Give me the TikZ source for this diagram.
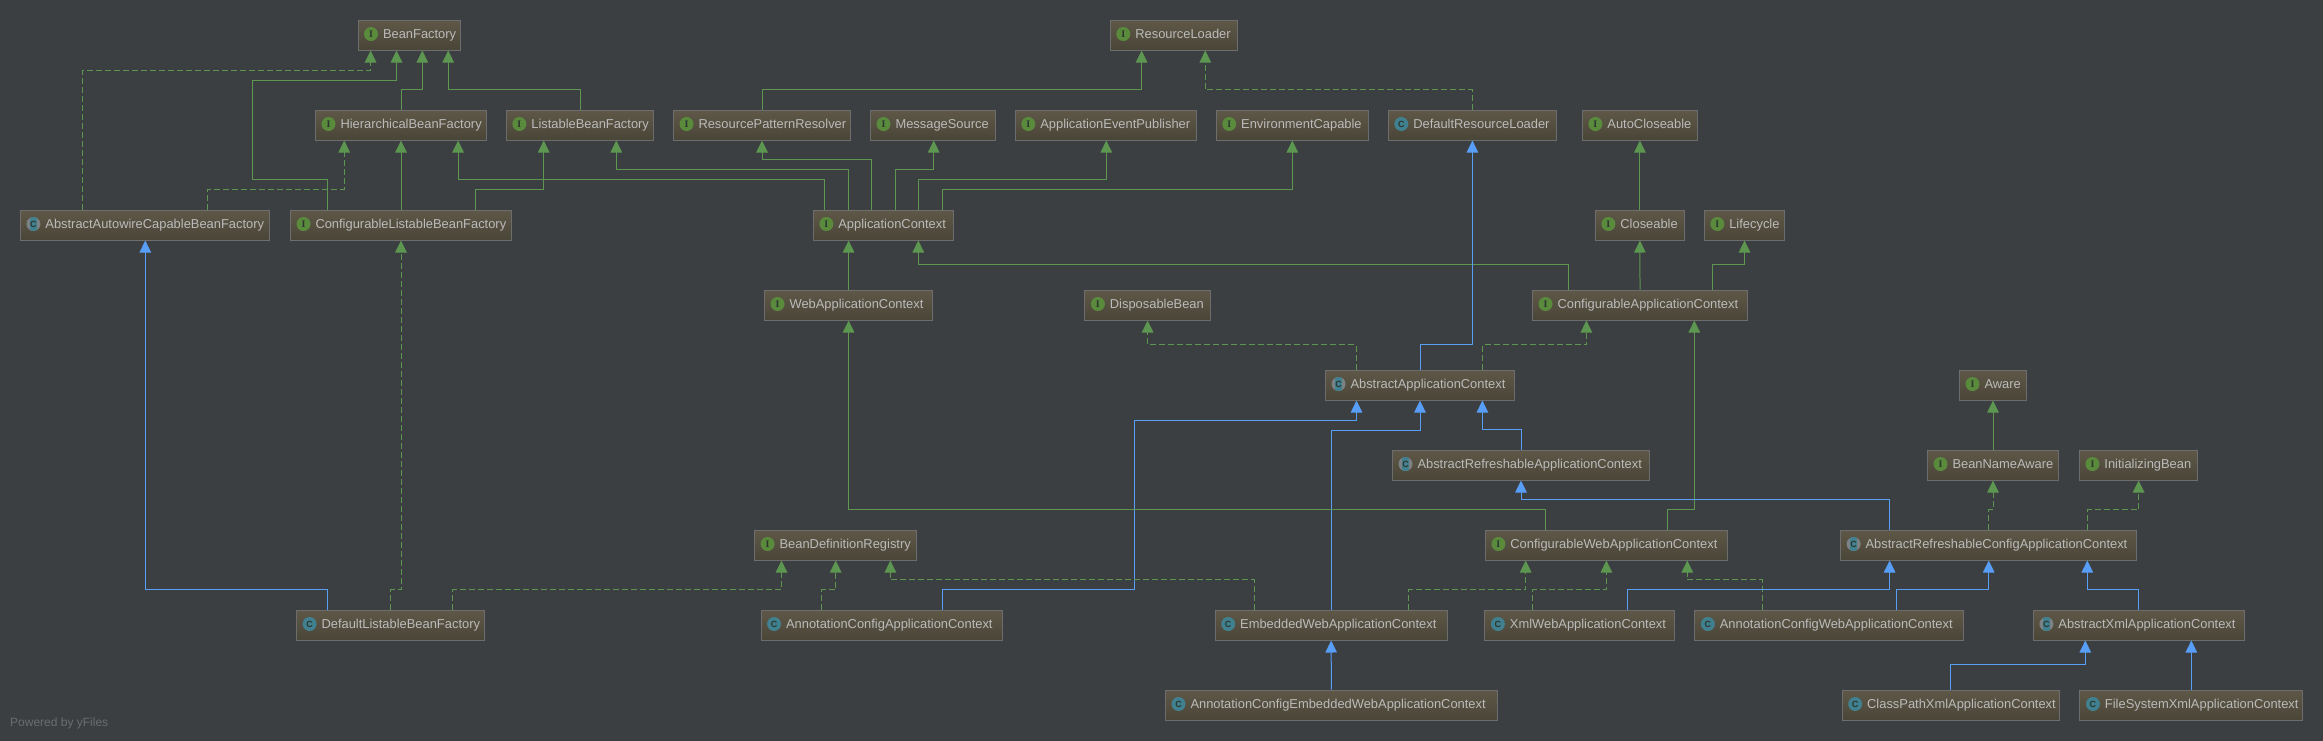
\documentclass[tikz,border=0pt]{standalone}
\usepackage{fontspec}
\setmainfont{Liberation Sans}
\newfontfamily\iconserif{Liberation Serif}
\usetikzlibrary{arrows.meta}

\definecolor{bgcolor}{HTML}{3C3F41}
\definecolor{boxtop}{HTML}{5F5848}
\definecolor{boxbottom}{HTML}{494537}
\definecolor{boxline}{HTML}{6D6D6D}
\definecolor{boxtext}{HTML}{BBBBBB}
\definecolor{greenline}{HTML}{5C9650}
\definecolor{blueline}{HTML}{589DF6}
\definecolor{ifacefill}{HTML}{5A8A3C}
\definecolor{classfill}{HTML}{40808F}
\definecolor{absring}{HTML}{7C8284}
\definecolor{iconletter}{HTML}{2C3630}

\tikzset{
  classtext/.style={font=\fontsize{12.9}{15}\selectfont, text=boxtext},
  basebox/.style={classtext, draw=boxline, line width=1pt, top color=boxtop, bottom color=boxbottom,
    inner xsep=6pt, inner ysep=0pt, minimum height=30pt, text height=10pt, text depth=3pt,
    execute at begin node={\hyphenpenalty=10000\hspace*{19pt}}},
  iconbase/.style={circle, inner sep=0pt, minimum size=14pt, text=iconletter, anchor=center,
    font=\fontsize{9}{9}\selectfont\bfseries, xshift=13.5pt, yshift=1pt},
  ifaceicon/.style={iconbase, fill=ifacefill, font=\iconserif\fontsize{10}{10}\selectfont\bfseries},
  classicon/.style={iconbase, fill=classfill},
  absicon/.style={iconbase, fill=absring, path picture={
    \fill[classfill] ([shift={(-3.5pt,-7pt)}]path picture bounding box.center) rectangle ([shift={(3.5pt,7pt)}]path picture bounding box.center);}},
  ifacebox/.style={basebox, label={[ifaceicon]west:I}},
  classbox/.style={basebox, label={[classicon]west:C}},
  absbox/.style={basebox, label={[absicon]west:C}},
  edgetip/.style={-{Triangle[length=12pt,width=11.5pt]}, line width=1pt},
  ifaceedge/.style={edgetip, draw=greenline, color=greenline},
  impledge/.style={ifaceedge, dash pattern=on 6pt off 3pt},
  classedge/.style={edgetip, draw=blueline, color=blueline},
}

\begin{document}
\begin{tikzpicture}[x=1pt,y=-1pt]
\useasboundingbox (0,0) rectangle (2323,740);
\fill[bgcolor] (-5,-5) rectangle (2330,745);

% row 1
\node[ifacebox, text width=90.5pt] (beanfactory) at (409.25,35) {BeanFactory};
\node[ifacebox, text width=114.8pt] (resourceloader) at (1173.7,35) {ResourceLoader};

% row 2
\node[ifacebox, text width=159pt] (hierarchical) at (401,125) {HierarchicalBeanFactory};
\node[ifacebox, text width=135.3pt] (listable) at (580,125) {ListableBeanFactory};
\node[ifacebox, text width=165pt] (patternresolver) at (762,125) {ResourcePatternResolver};
\node[ifacebox, text width=113pt] (messagesource) at (933,125) {MessageSource};
\node[ifacebox, text width=169pt] (eventpublisher) at (1105.8,125) {ApplicationEventPublisher};
\node[ifacebox, text width=140.2pt] (envcapable) at (1292.3,125) {EnvironmentCapable};
\node[classbox, text width=156.2pt] (defaultloader) at (1472.4,125) {DefaultResourceLoader};
\node[ifacebox, text width=103pt] (autocloseable) at (1639.9,125) {AutoCloseable};

% row 3
\node[absbox, text width=237.2pt] (autowirefactory) at (145,225) {AbstractAutowireCapableBeanFactory};
\node[ifacebox, text width=209pt] (configfactory) at (401,225) {ConfigurableListableBeanFactory};
\node[ifacebox, text width=128.3pt] (appcontext) at (883.5,225) {ApplicationContext};
\node[ifacebox, text width=77pt] (closeable) at (1639.9,225) {Closeable};
\node[ifacebox, text width=68.4pt] (lifecycle) at (1744.5,225) {Lifecycle};

% row 4
\node[ifacebox, text width=155.7pt] (webcontext) at (848.4,305) {WebApplicationContext};
\node[ifacebox, text width=113.4pt] (disposable) at (1147.6,305) {DisposableBean};
\node[ifacebox, text width=203pt] (configcontext) at (1640,305) {ConfigurableApplicationContext};

% row 5
\node[absbox, text width=177pt] (abstractcontext) at (1420,385) {AbstractApplicationContext};
\node[ifacebox, text width=55pt] (aware) at (1993,385) {Aware};

% row 6
\node[absbox, text width=245pt] (refreshable) at (1521,465) {AbstractRefreshableApplicationContext};
\node[ifacebox, text width=119pt] (beannameaware) at (1993,465) {BeanNameAware};
\node[ifacebox, text width=106.3pt] (initializing) at (2138.6,465) {InitializingBean};

% row 7
\node[ifacebox, text width=150.2pt] (registry) at (835.7,545) {BeanDefinitionRegistry};
\node[ifacebox, text width=230pt] (configweb) at (1606.4,545) {ConfigurableWebApplicationContext};
\node[absbox, text width=284.2pt] (refreshconfig) at (1988.7,545) {AbstractRefreshableConfigApplicationContext};

% row 8
\node[classbox, text width=175.5pt] (defaultfactory) at (390.3,625) {DefaultListableBeanFactory};
\node[classbox, text width=229.3pt] (annotationcontext) at (881.7,625) {AnnotationConfigApplicationContext};
\node[classbox, text width=219.8pt] (embeddedweb) at (1331.1,625) {EmbeddedWebApplicationContext};
\node[classbox, text width=177.4pt] (xmlweb) at (1579.6,625) {XmlWebApplicationContext};
\node[classbox, text width=256.7pt] (annotationweb) at (1829.2,625) {AnnotationConfigWebApplicationContext};
\node[absbox, text width=198.8pt] (abstractxml) at (2138.8,625) {AbstractXmlApplicationContext};

% row 9
\node[classbox, text width=319.8pt] (annotationembedded) at (1331.4,705) {AnnotationConfigEmbeddedWebApplicationContext};
\node[classbox, text width=205.3pt] (classpathxml) at (1950.8,705) {ClassPathXmlApplicationContext};
\node[classbox, text width=210.7pt] (filesystemxml) at (2191.3,705) {FileSystemXmlApplicationContext};

\node[font=\fontsize{12}{14}\selectfont, text=gray!70!bgcolor, anchor=west, inner sep=0pt] (poweredby) at (10,723) {Powered by yFiles};

% bean factories
\draw[impledge] (82.6,0 |- autowirefactory.north) |- (370.6,70) -- (370.6,0 |- beanfactory.south);
\draw[ifaceedge] (327.3,0 |- configfactory.north) -- ++(0,-30) -| (252.7,80) -| (396.5,0 |- beanfactory.south);
\draw[ifaceedge] (hierarchical.north) -- ++(0,-20) -| (422.3,0 |- beanfactory.south);
\draw[ifaceedge] (listable.north) -- ++(0,-20) -| (448.2,0 |- beanfactory.south);
\draw[impledge] (207.4,0 |- autowirefactory.north) -- ++(0,-20) -| (344.2,0 |- hierarchical.south);
\draw[ifaceedge] (configfactory.north) -- (hierarchical.south);
\draw[ifaceedge] (475.5,0 |- configfactory.north) -- ++(0,-20) -| (543.7,0 |- listable.south);
\draw[classedge] (327.3,0 |- defaultfactory.north) -- ++(0,-19.7) -| (145.3,0 |- autowirefactory.south);
\draw[impledge] (defaultfactory.north) -- ++(0,-19.7) -| (configfactory.south);
\draw[impledge] (452.7,0 |- defaultfactory.north) -- ++(0,-19.7) -| (781.5,0 |- registry.south);

% application context
\draw[ifaceedge] (824.3,0 |- appcontext.north) -- ++(0,-30) -| (458.1,0 |- hierarchical.south);
\draw[ifaceedge] (848.6,0 |- appcontext.north) -- ++(0,-40) -| (616.3,0 |- listable.south);
\draw[ifaceedge] (871.5,0 |- appcontext.north) -- ++(0,-50) -| (762,0 |- patternresolver.south);
\draw[ifaceedge] (762.5,0 |- patternresolver.north) -- ++(0,-20) -| (1141.6,0 |- resourceloader.south);
\draw[impledge] (defaultloader.north) -- ++(0,-20) -| (1205.3,0 |- resourceloader.south);
\draw[ifaceedge] (895.4,0 |- appcontext.north) -- ++(0,-40) -| (933.7,0 |- messagesource.south);
\draw[ifaceedge] (918.3,0 |- appcontext.north) -- ++(0,-30) -| (1106.3,0 |- eventpublisher.south);
\draw[ifaceedge] (942.7,0 |- appcontext.north) -- ++(0,-20) -| (envcapable.south);
\draw[ifaceedge] (848.6,0 |- webcontext.north) -- (848.6,0 |- appcontext.south);
\draw[ifaceedge] (1568.5,0 |- configcontext.north) -- ++(0,-24.7) -| (918.3,0 |- appcontext.south);
\draw[ifaceedge] (closeable.north) -- (autocloseable.south);
\draw[ifaceedge] (configcontext.north) -- (closeable.south);
\draw[ifaceedge] (1712.3,0 |- configcontext.north) -- ++(0,-24.7) -| (lifecycle.south);

% abstract context
\draw[classedge] (abstractcontext.north) -- ++(0,-24.7) -| (defaultloader.south);
\draw[impledge] (1356.5,0 |- abstractcontext.north) -- ++(0,-24.7) -| (disposable.south);
\draw[impledge] (1482.4,0 |- abstractcontext.north) -- ++(0,-24.7) -| (1586.4,0 |- configcontext.south);
\draw[classedge] (refreshable.north) -- ++(0,-19.7) -| (1482.4,0 |- abstractcontext.south);
\draw[classedge] (embeddedweb.north) -- (1331.1,430.3) -| (abstractcontext.south);
\draw[classedge] (annotationcontext.north -| 942.7,0) -- ++(0,-19.7) -| (1134.7,420.3) -| (1356.5,0 |- abstractcontext.south);
\draw[classedge] (annotationembedded.north) -- (embeddedweb.south);

% web context
\draw[ifaceedge] (1545.5,0 |- configweb.north) -- ++(0,-19.7) -| (848.6,0 |- webcontext.south);
\draw[ifaceedge] (1667.3,0 |- configweb.north) -- ++(0,-19.7) -| (1694.3,0 |- configcontext.south);
\draw[classedge] (1889.6,0 |- refreshconfig.north) -- ++(0,-29.7) -| (refreshable.south);

% registry
\draw[impledge] (821.3,0 |- annotationcontext.north) -- ++(0,-19.7) -| (registry.south);
\draw[impledge] (1254.6,0 |- embeddedweb.north) -- ++(0,-29.7) -| (890.4,0 |- registry.south);
\draw[impledge] (1408.3,0 |- embeddedweb.north) -- ++(0,-19.7) -| (1525.7,0 |- configweb.south);
\draw[impledge] (1532.6,0 |- xmlweb.north) -- ++(0,-19.7) -| (configweb.south);
\draw[impledge] (1762.7,0 |- annotationweb.north) -- ++(0,-29.7) -| (1687.3,0 |- configweb.south);

% refreshable config
\draw[classedge] (1627.4,0 |- xmlweb.north) -- ++(0,-19.7) -| (1889.6,0 |- refreshconfig.south);
\draw[classedge] (1896.6,0 |- annotationweb.north) -- ++(0,-19.7) -| (refreshconfig.south);
\draw[classedge] (abstractxml.north) -- ++(0,-19.7) -| (2087.3,0 |- refreshconfig.south);
\draw[impledge] (refreshconfig.north) -- ++(0,-19.7) -| (beannameaware.south);
\draw[impledge] (2087.3,0 |- refreshconfig.north) -- ++(0,-19.7) -| (initializing.south);
\draw[ifaceedge] (beannameaware.north) -- (aware.south);
\draw[classedge] (classpathxml.north) -- ++(0,-24.7) -| (2085.3,0 |- abstractxml.south);
\draw[classedge] (filesystemxml.north) -- (filesystemxml.north |- abstractxml.south);

\end{tikzpicture}
\end{document}
